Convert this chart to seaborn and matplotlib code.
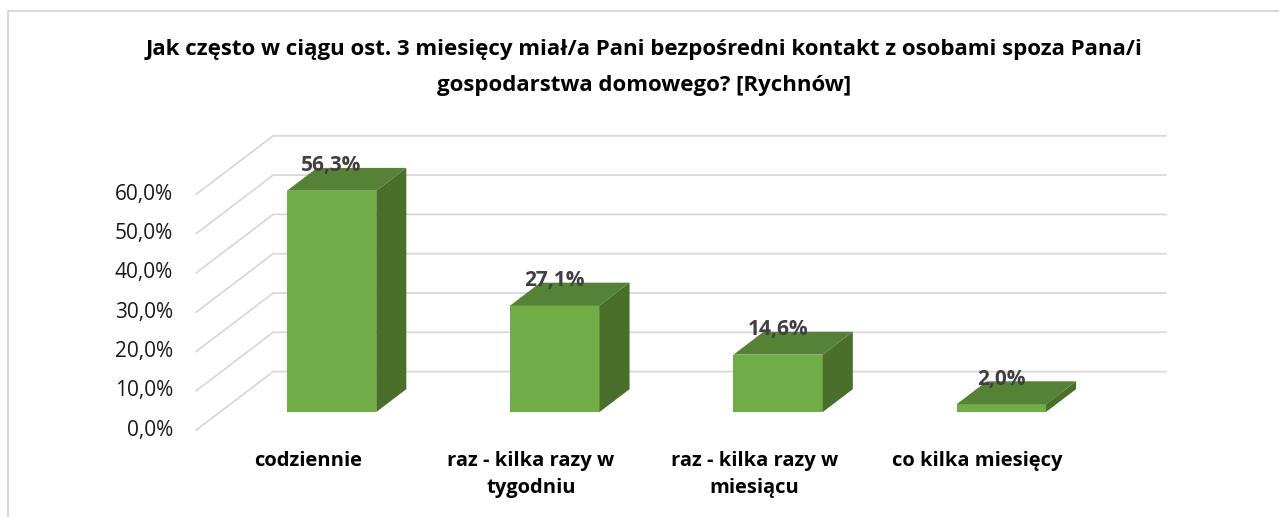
import matplotlib
matplotlib.use("Agg")
import matplotlib.pyplot as plt
from matplotlib.patches import Polygon
from matplotlib.lines import Line2D
import seaborn as sns
import pandas as pd

categories = ["codziennie", "raz - kilka razy w\ntygodniu",
              "raz - kilka razy w\nmiesiącu", "co kilka miesięcy"]
values = [56.3, 27.1, 14.6, 2.0]
y_ticks = [0, 10, 20, 30, 40, 50, 60]
title_lines = ["Jak często w ciągu ost. 3 miesięcy miał/a Pani bezpośredni kontakt z osobami spoza Pana/i",
               "gospodarstwa domowego? [Rychnów]"]

FRONT, TOP, SIDE = "#70AD47", "#568238", "#4A6F2B"
GRID = "#D9D9D9"

sns.set_theme(style="white")
plt.rcParams["font.family"] = ["Open Sans", "DejaVu Sans"]

W, H = 1279, 517
fig = plt.figure(figsize=(W / 100, H / 100), dpi=100)
# axes = plane of the bar fronts: x -0.5..3.5, y 0..60
ax = fig.add_axes([220 / W, (H - 412) / H, 893 / W, 235.8 / H])

# oblique depth of the whole floor, in data units; bars sit between 0.31 and 0.70
DX, DY = 0.345, 14.9
D_FLOOR, D_BAR, D_WALL = -0.31, 0.39, 0.69

def fmt(v):
    return f"{v:.1f}%".replace(".", ",")

# grid: diagonal on the left wall + horizontal on the back wall
for v in y_ticks:
    xa, ya = -0.5 + D_FLOOR * DX, v + D_FLOOR * DY
    xb, yb = -0.5 + D_WALL * DX, v + D_WALL * DY
    xc = 3.5 + D_WALL * DX
    ax.plot([xa, xb, xc], [ya, yb, yb], color=GRID, lw=1.3, clip_on=False, zorder=0)
    ax.annotate(fmt(v), (xa, ya), xytext=(-16.5, 0), textcoords="offset points",
                ha="right", va="center", fontsize=15, color="#1a1a1a",
                annotation_clip=False)

df = pd.DataFrame({"cat": categories, "val": values})
sns.barplot(data=df, x="cat", y="val", color=FRONT, saturation=1, width=0.4,
            linewidth=0, ax=ax, zorder=2)

for p, v in zip(ax.patches, values):
    x0, w, h = p.get_x(), p.get_width(), p.get_height()
    x1 = x0 + w
    dx, dy = D_BAR * DX, D_BAR * DY
    p.set_clip_on(False)
    ax.add_patch(Polygon([(x0, h), (x1, h), (x1 + dx, h + dy), (x0 + dx, h + dy)],
                         closed=True, facecolor=TOP, lw=0, clip_on=False, zorder=2))
    ax.add_patch(Polygon([(x1, 0), (x1 + dx, dy), (x1 + dx, h + dy), (x1, h)],
                         closed=True, facecolor=SIDE, lw=0, clip_on=False, zorder=2))
    ax.annotate(fmt(v), (x0 + w / 2, h + dy), xytext=(0, 1.5), textcoords="offset points",
                ha="center", va="center", fontsize=15, fontweight="bold",
                color="#404040", zorder=3, annotation_clip=False)

for i, cat in enumerate(categories):
    ax.annotate(cat, (i + D_FLOOR * DX, D_FLOOR * DY), xytext=(0, -15),
                textcoords="offset points", ha="center", va="top", fontsize=14.5,
                fontweight="bold", color="black", linespacing=1.45,
                annotation_clip=False)

ax.set_xlim(-0.5, 3.5)
ax.set_ylim(0, 60)
ax.axis("off")

for k, line in enumerate(title_lines):
    fig.text(644 / W, 1 - (50 + 36 * k) / H, line, ha="center", va="center",
             fontsize=16, fontweight="bold", color="black")

fig.add_artist(Line2D([7.5 / W, 7.5 / W], [0, 1 - 11 / H], color=GRID, lw=1.5))
fig.add_artist(Line2D([7.5 / W, 1], [1 - 11 / H, 1 - 11 / H], color=GRID, lw=1.5))

fig.savefig("out.png", dpi=100)
